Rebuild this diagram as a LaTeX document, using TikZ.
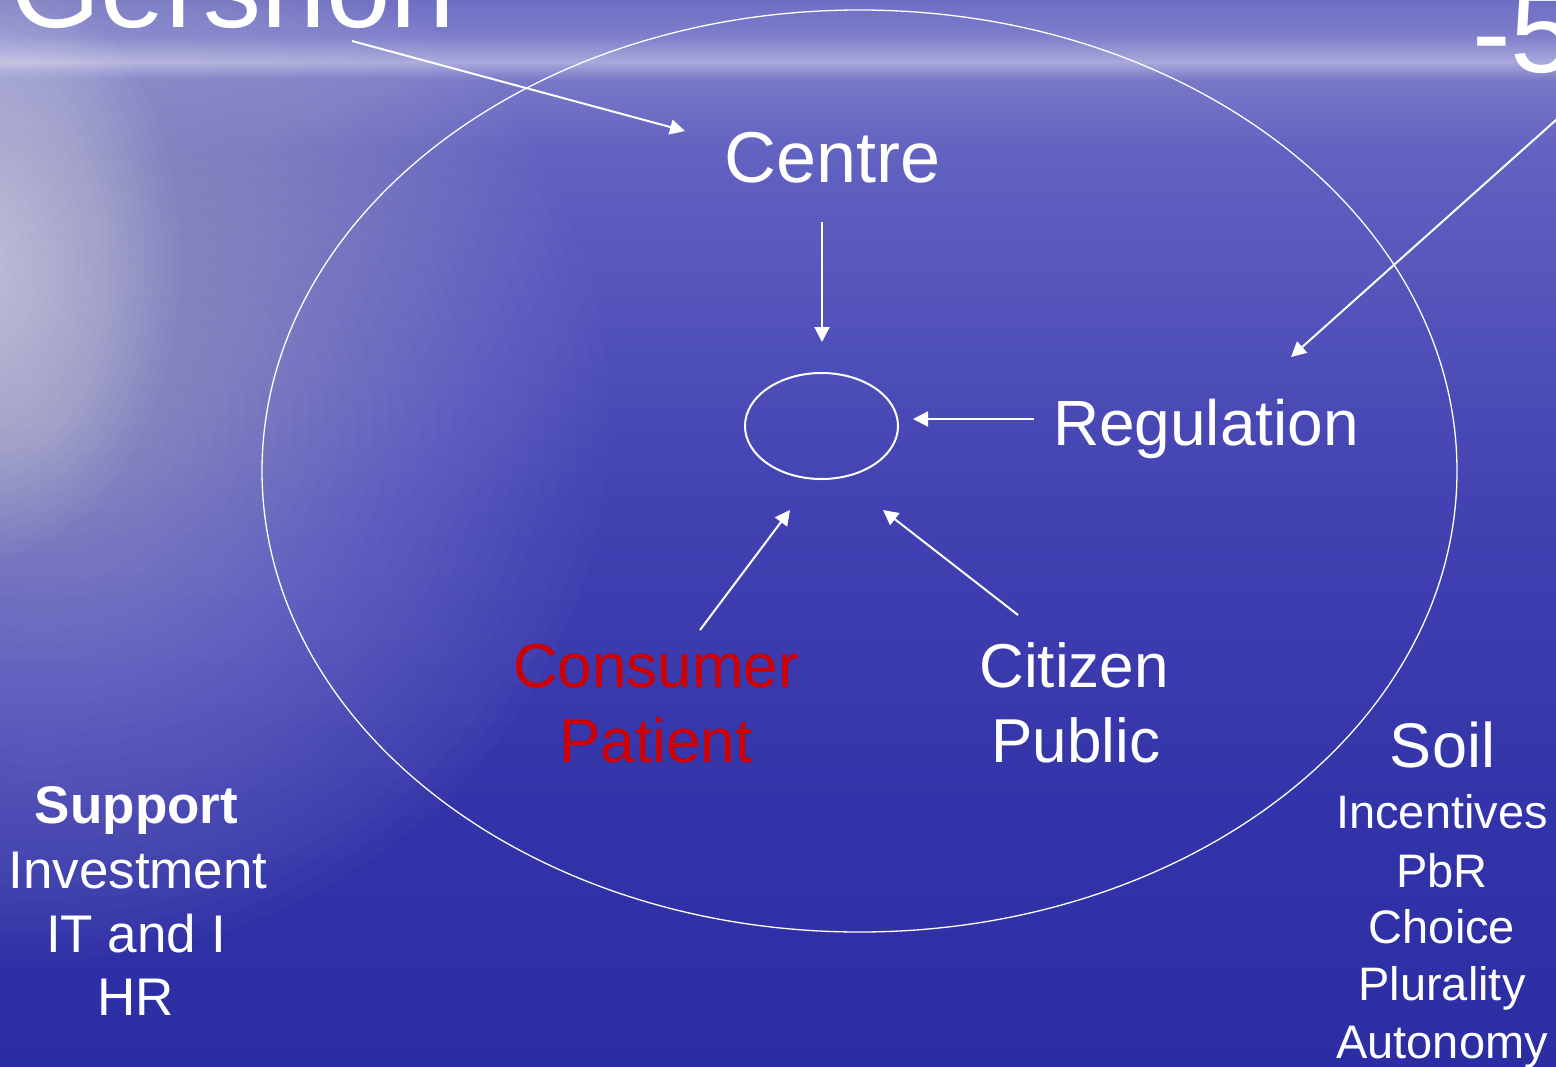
\documentclass[tikz,border=0pt]{standalone}
\usepackage{fontspec}
\setmainfont{Liberation Sans}
\usetikzlibrary{arrows.meta,shapes.geometric}

% sea backdrop tones, top to bottom
\definecolor{seaA}{RGB}{110,110,196}
\definecolor{seaB}{RGB}{125,125,204}
\definecolor{seaC}{RGB}{168,168,220}
\definecolor{seaD}{RGB}{120,120,200}
\definecolor{seaE}{RGB}{98,98,193}
\definecolor{seaF}{RGB}{84,84,187}
\definecolor{seaG}{RGB}{66,66,178}
\definecolor{seaH}{RGB}{52,52,170}
\definecolor{seaI}{RGB}{45,45,163}
\definecolor{consumerRed}{RGB}{208,0,0}

\begin{document}
\begin{tikzpicture}[x=1pt,y=-1pt,
  lbl/.style={text=white, inner sep=0pt, outer sep=0pt, anchor=base},
  bigtext/.style={lbl, font=\fontsize{62}{74}\selectfont},
  listtext/.style={lbl, font=\fontsize{47}{56}\selectfont},
  sidetext/.style={lbl, font=\fontsize{53}{64}\selectfont},
  titletext/.style={lbl, anchor=base west, font=\fontsize{116}{130}\selectfont},
  arr/.style={draw=white, line width=2pt, -{Triangle[length=15pt,width=15pt]}},
  ring/.style={ellipse, draw=white, inner sep=0pt}
]
\useasboundingbox (0,0) rectangle (1556,1066);
\clip (0,0) rectangle (1556,1066);

% backdrop: vertical gradient in bands
\shade[top color=seaA, bottom color=seaB] (0,0) rectangle (1556,35);
\shade[top color=seaB, bottom color=seaC] (0,35) rectangle (1556,62);
\shade[top color=seaC, bottom color=seaD] (0,62) rectangle (1556,80);
\shade[top color=seaD, bottom color=seaE] (0,80) rectangle (1556,150);
\shade[top color=seaE, bottom color=seaF] (0,150) rectangle (1556,300);
\shade[top color=seaF, bottom color=seaG] (0,300) rectangle (1556,500);
\shade[top color=seaG, bottom color=seaH] (0,500) rectangle (1556,800);
\shade[top color=seaH, bottom color=seaI] (0,800) rectangle (1556,1066);

% light glare on the left: stacked translucent ellipses
\foreach \k in {1,...,36}
  \fill[white, opacity=0.015] (40,420) ellipse [x radius={15.8*\k}, y radius={15*\k}];
\foreach \k in {1,...,24}
  \fill[white, opacity=0.03] (-30,260) ellipse [x radius={8.75*\k}, y radius={12.5*\k}];

% title fragments
\node[titletext] (gershon) at (10.5,27) {Gershon};
\node[titletext] (minusfive) at (1472,72) {-5};

% ellipses
\node[ring, line width=1.3pt, minimum width=1195pt, minimum height=922pt] (outer) at (859.5,471) {};
\node[ring, line width=2pt, minimum width=153pt, minimum height=106pt] (hub) at (821.5,426) {};

% labels
\node[lbl, font=\fontsize{72}{86}\selectfont] (centre) at (832.5,182) {Centre};
\node[lbl, font=\fontsize{64}{76}\selectfont] (regulation) at (1206,445) {Regulation};
\node[bigtext, text=consumerRed] (consumer) at (656,687) {Consumer};
\node[bigtext, text=consumerRed] (patient) at (656,762) {Patient};
\node[bigtext] (citizen) at (1074,687) {Citizen};
\node[bigtext] (public) at (1076,762) {Public};

\node[lbl, font=\fontsize{63}{75}\selectfont] (soil) at (1442.5,767) {Soil};
\node[listtext] (incentives) at (1442,828) {Incentives};
\node[listtext] (pbr) at (1442,887) {PbR};
\node[listtext] (choice) at (1442,943) {Choice};
\node[listtext] (plurality) at (1442,1000) {Plurality};
\node[listtext] (autonomy) at (1442,1058) {Autonomy};

\node[sidetext, font=\fontsize{53}{64}\selectfont\bfseries] (support) at (136.5,823) {Support};
\node[sidetext] (investment) at (138,888) {Investment};
\node[sidetext] (itandi) at (136,952) {IT and I};
\node[sidetext] (hr) at (136,1015) {HR};

% arrow end points
\coordinate (gTail) at (352,41);
\coordinate (gHead) at (685,131);
\coordinate (fTail) at (1575,103);
\coordinate (fHead) at (1291,357);
\coordinate (cTail) at (822,222);
\coordinate (cHead) at (822,342);
\coordinate (rTail) at (1034,419);
\coordinate (rHead) at (913,419);
\coordinate (conTail) at (700,630);
\coordinate (conHead) at (790,510);
\coordinate (citTail) at (1018,615);
\coordinate (citHead) at (883,510);

\draw[arr] (gTail) -- (gHead);
\draw[arr] (fTail) -- (fHead);
\draw[arr] (cTail) -- (cHead);
\draw[arr] (rTail) -- (rHead);
\draw[arr] (conTail) -- (conHead);
\draw[arr] (citTail) -- (citHead);
\end{tikzpicture}
\end{document}
